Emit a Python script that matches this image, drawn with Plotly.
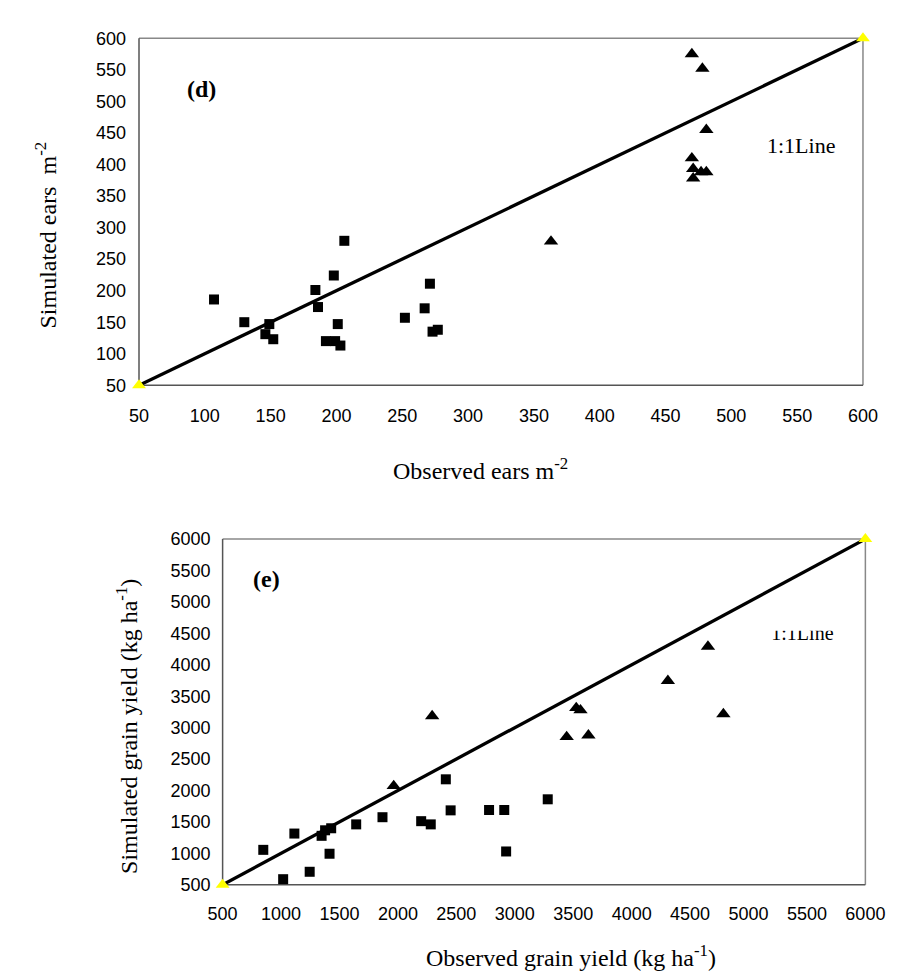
import plotly.graph_objects as go

W, H = 899, 972

# ---- panel (d): ears m-2 ----
ears_sq_obs = [107, 130, 149, 146, 152, 184, 186, 198, 206, 201, 192, 199, 203, 271, 267, 252, 273, 277]
ears_sq_sim = [186, 150, 147, 131, 123, 201, 174, 224, 279, 147, 120, 120, 113, 211, 172, 157, 135, 138]
ears_tri_obs = [470, 478, 481, 470, 471, 477, 481, 471, 363]
ears_tri_sim = [575, 552, 455, 410, 393, 388, 388, 378, 278]
ears_line = [50, 600]

# ---- panel (e): grain yield ----
yield_sq_obs = [848, 1018, 1114, 1245, 1347, 1377, 1429, 1415, 1643, 1868, 2199, 2281, 2410, 2451, 2780, 2910, 2926, 3282]
yield_sq_sim = [1056, 589, 1315, 707, 1279, 1367, 1399, 994, 1461, 1575, 1512, 1461, 2178, 1684, 1690, 1690, 1030, 1860]
yield_tri_obs = [1964, 2293, 3526, 3562, 3444, 3630, 4310, 4653, 4785]
yield_tri_sim = [2073, 3184, 3314, 3278, 2852, 2878, 3745, 4290, 3215]
yield_line = [500, 6000]

ears_ticks = list(range(50, 601, 50))
yield_ticks = list(range(500, 6001, 500))

SERIF = "Liberation Serif, Times New Roman, serif"
SANS = "Liberation Sans, Arial, sans-serif"

fig = go.Figure()


def add_panel(xa, ya, line_v, sq_x, sq_y, tri_x, tri_y):
    fig.add_trace(go.Scatter(x=line_v, y=line_v, mode="lines+markers", xaxis=xa, yaxis=ya,
                             line=dict(color="black", width=3.3),
                             marker=dict(symbol="triangle-up", size=12, color="#FFFF00"),
                             cliponaxis=False, showlegend=False))
    fig.add_trace(go.Scatter(x=sq_x, y=sq_y, mode="markers", xaxis=xa, yaxis=ya,
                             marker=dict(symbol="square", size=10, color="black"),
                             cliponaxis=False, showlegend=False))
    fig.add_trace(go.Scatter(x=tri_x, y=tri_y, mode="markers", xaxis=xa, yaxis=ya,
                             marker=dict(symbol="triangle-up", size=12.5, color="black"),
                             cliponaxis=False, showlegend=False))


add_panel("x", "y", ears_line, ears_sq_obs, ears_sq_sim, ears_tri_obs, ears_tri_sim)
add_panel("x2", "y2", yield_line, yield_sq_obs, yield_sq_sim, yield_tri_obs, yield_tri_sim)


def px(v):
    return v / W


def py(v):
    return 1 - v / H


# pixel boxes of the two plot areas
top = dict(l=120.7, r=874, t=20.7, b=375)
bot = dict(l=207.7, r=876.5, t=532, b=885)

tickfont = dict(family=SANS, size=18, color="black")
axcommon = dict(showgrid=False, zeroline=False, showline=False, ticks="",
                tickfont=tickfont, fixedrange=True)

fig.update_layout(
    width=W, height=H, autosize=False,
    margin=dict(l=0, r=0, t=0, b=0),
    paper_bgcolor="white", plot_bgcolor="white",
    xaxis=dict(domain=[px(top["l"]), px(top["r"])], range=[50, 600], tickvals=ears_ticks,
               ticklabelstandoff=18, anchor="y", **axcommon),
    yaxis=dict(domain=[py(top["b"]), py(top["t"])], range=[50, 600], tickvals=ears_ticks,
               ticklabelstandoff=12, anchor="x", **axcommon),
    xaxis2=dict(domain=[px(bot["l"]), px(bot["r"])], range=[500, 6000], tickvals=yield_ticks,
                ticklabelstandoff=16, anchor="y2", **axcommon),
    yaxis2=dict(domain=[py(bot["b"]), py(bot["t"])], range=[500, 6000], tickvals=yield_ticks,
                ticklabelstandoff=11, anchor="x2", **axcommon),
)

# plot frames (top/right lighter gray, left/bottom darker)
for xa, ya in (("x", "y"), ("x2", "y2")):
    xr, yr = f"{xa} domain", f"{ya} domain"
    fig.add_shape(type="line", xref=xr, yref=yr, x0=0, x1=1, y0=1, y1=1,
                  line=dict(color="#888888", width=1.5), layer="below")
    fig.add_shape(type="line", xref=xr, yref=yr, x0=1, x1=1, y0=0, y1=1,
                  line=dict(color="#888888", width=1.5), layer="below")
    fig.add_shape(type="line", xref=xr, yref=yr, x0=0, x1=0, y0=0, y1=1,
                  line=dict(color="#555555", width=1.5), layer="below")
    fig.add_shape(type="line", xref=xr, yref=yr, x0=0, x1=1, y0=0, y1=0,
                  line=dict(color="#555555", width=1.5), layer="below")

# the lower "1:1Line" label is clipped at its top in the reference: draw it as a
# text trace and mask its upper part with a white box drawn above the traces
fig.add_trace(go.Scatter(x=[0.9], y=[0.275], xaxis="x2", yaxis="y2", mode="text",
                         text=["1:1Line"], textposition="middle center",
                         textfont=dict(family=SERIF, size=20, color="black"),
                         showlegend=False, hoverinfo="skip"))
fig.data[-1].update(x=None, y=None)
fig.data[-1].update(xaxis="x2", yaxis="y2")
# position it in data units of panel (e)
lbl_x = 500 + (811 - bot["l"]) / (bot["r"] - bot["l"]) * 5500
lbl_y = 500 + (bot["b"] - 630) / (bot["b"] - bot["t"]) * 5500
fig.data[-1].update(x=[lbl_x], y=[lbl_y])
fig.add_shape(type="rect", xref="paper", yref="paper",
              x0=px(770), x1=px(852), y0=py(625.5), y1=py(612),
              fillcolor="white", line=dict(width=0), layer="above")

ann = []


def text(x, y, s, size, bold=False, angle=0, xanchor="center"):
    ann.append(dict(x=px(x), y=py(y), xref="paper", yref="paper", text=f"<b>{s}</b>" if bold else s,
                    showarrow=False, textangle=angle, xanchor=xanchor, yanchor="middle",
                    font=dict(family=SERIF, size=size, color="black")))


text(186, 72, "(d)", 24, bold=True)
text(253, 573, "(e)", 24, bold=True)
text(809, 130, "1:1Line", 22)
text(383, 460, "Observed ears m<sup>-2</sup>", 24, xanchor="left")
text(417, 958, "Observed grain yield (kg ha<sup>-1</sup>)", 24, xanchor="left")
text(24, 222, "Simulated ears  m<sup>-2</sup>", 24, angle=-90)
text(108, 723, "Simulated grain yield (kg ha<sup>-1</sup>)", 24, angle=-90)

fig.update_layout(annotations=ann)

fig.write_html("out.html")
